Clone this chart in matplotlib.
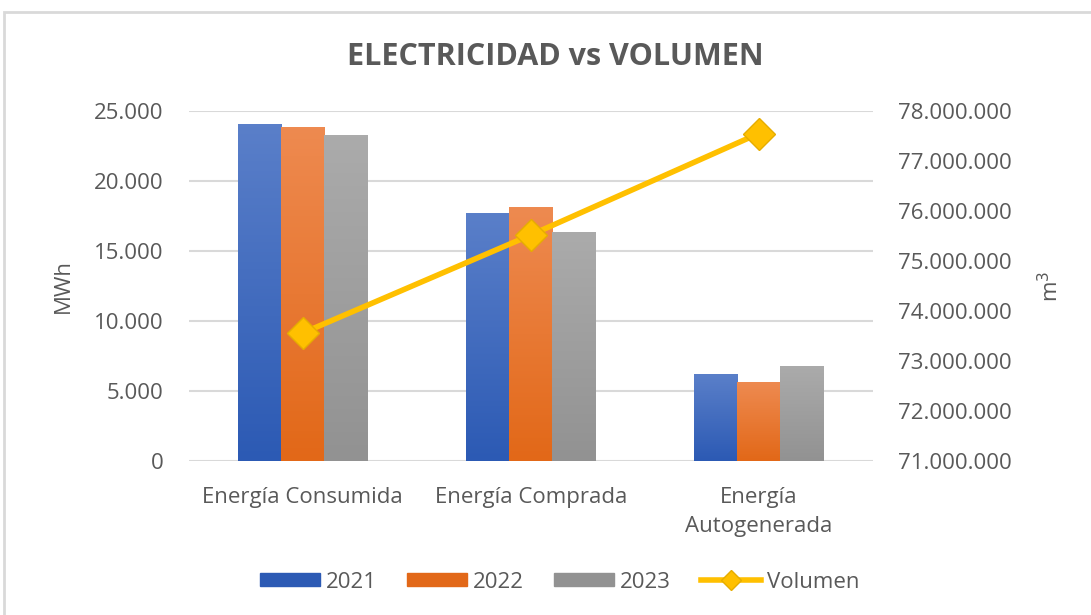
import numpy as np
import matplotlib.pyplot as plt
from matplotlib.colors import LinearSegmentedColormap
from matplotlib.patches import Rectangle
from matplotlib.lines import Line2D
from matplotlib.ticker import FuncFormatter

categories = ["Energía Consumida", "Energía Comprada", "Energía\nAutogenerada"]
years = ["2021", "2022", "2023"]
mwh_2021 = [24050, 17700, 6200]
mwh_2022 = [23880, 18120, 5640]
mwh_2023 = [23290, 16360, 6810]
volumen = [73560000, 75520000, 77550000]

# top (light) / bottom (dark) colours of the excel gradient
bar_colors = [("#5A7FC9", "#2C5AB4"), ("#EE8A50", "#E26818"), ("#ABABAB", "#929292")]
text_gray = "#595959"
grid_gray = "#D9D9D9"

plt.rcParams['font.family'] = ['Open Sans', 'DejaVu Sans']

fig = plt.figure(figsize=(10.91, 6.15), dpi=100)
ax = fig.add_axes([0.173, 0.2504, 0.627, 0.5691])
ax2 = ax.twinx()

x = np.arange(len(categories))
width = 0.19
series = [mwh_2021, mwh_2022, mwh_2023]

for i, vals in enumerate(series):
    bars = ax.bar(x + (i - 1) * width, vals, width, color=bar_colors[i][1], zorder=2)
    cmap = LinearSegmentedColormap.from_list("g%d" % i, [bar_colors[i][1], bar_colors[i][0]])
    grad = np.linspace(0, 1, 100).reshape(-1, 1)
    for b in bars:
        bx, bw, bh = b.get_x(), b.get_width(), b.get_height()
        im = ax.imshow(grad, cmap=cmap, aspect='auto', origin='lower',
                       extent=[bx, bx + bw, 0, bh], zorder=3)
        im.set_clip_path(b)

ax.set_xlim(-0.5, 2.5)
ax.set_ylim(0, 25000)
ax.set_yticks(np.arange(0, 25001, 5000))
ax.yaxis.grid(True, color=grid_gray, linewidth=1.5, zorder=0)
ax.set_axisbelow(True)
ax.set_xticks(x)
ax.set_xticklabels(categories, linespacing=1.45)

ax2.plot(x, volumen, color="#FFC000", linewidth=4, marker='D', markersize=16,
         markerfacecolor="#FFC000", markeredgecolor="#E6AD00", zorder=5)
ax2.set_ylim(71000000, 78000000)
ax2.set_yticks(np.arange(71000000, 78000001, 1000000))

fmt = FuncFormatter(lambda v, p: f"{v:,.0f}".replace(",", "."))
ax.yaxis.set_major_formatter(fmt)
ax2.yaxis.set_major_formatter(fmt)

for a in (ax, ax2):
    for s in a.spines.values():
        s.set_visible(False)
    a.tick_params(length=0, labelsize=16, colors=text_gray)
ax.tick_params(axis='x', pad=19)
ax.tick_params(axis='y', pad=18)
ax2.tick_params(axis='y', pad=18)

fig.text(63 / 1091, 1 - 286 / 615, "MWh", rotation=90, ha='center', va='center',
         fontsize=16, color=text_gray)
fig.text(1051 / 1091, 1 - 286 / 615, "m$^3$", rotation=90, ha='center', va='center',
         fontsize=16, color=text_gray)

fig.text(0.509, 1 - 57 / 615, "ELECTRICIDAD vs VOLUMEN", ha='center', va='center',
         fontsize=22, fontweight='bold', color=text_gray)

handles = [Rectangle((0, 0), 1, 1, color=bar_colors[i][1]) for i in range(3)]
handles.append(Line2D([], [], color="#FFC000", linewidth=4, marker='D',
                      markersize=10, markeredgecolor="#E6AD00"))
fig.legend(handles, years + ["Volumen"], loc='center', ncol=4, frameon=False,
           bbox_to_anchor=(560 / 1091, 1 - 582 / 615), fontsize=16, handlelength=2.7,
           handleheight=0.55, columnspacing=1.35, handletextpad=0.27, labelcolor=text_gray)

# chart frame
fig.patches.append(Rectangle((4 / 1091, -0.05), 1.1, 1.05 - 12 / 615, transform=fig.transFigure,
                             fill=False, edgecolor=grid_gray, linewidth=2))

fig.savefig("out.png", dpi=100)
